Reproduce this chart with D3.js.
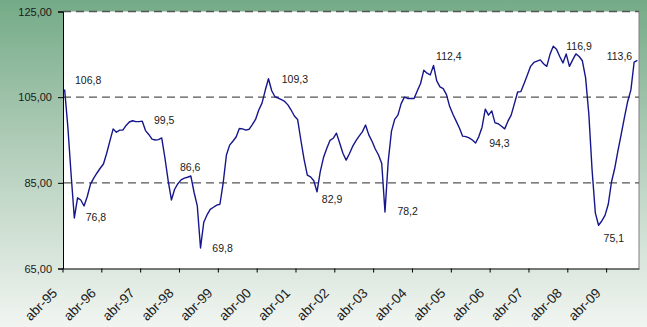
<!DOCTYPE html>
<html>
<head>
<meta charset="utf-8">
<script src="https://cdn.jsdelivr.net/npm/d3@7"></script>
<style>
  html, body { margin: 0; padding: 0; }
  body { width: 647px; height: 327px; overflow: hidden; }
  text { font-family: "Liberation Sans", Arial, sans-serif; fill: #1a1a1a; }
</style>
</head>
<body>
<div id="chart"></div>
<script>
// monthly index, abr-95 .. ene-10
var months = d3.timeMonth.range(new Date(1995, 3, 1), new Date(2010, 1, 1));

var values = [
  106.8, 98.0, 87.0, 76.8, 81.5, 81.0, 79.6, 81.8, 84.7, 86.1,
  87.3, 88.4, 89.4, 91.9, 94.8, 97.6, 96.8, 97.3, 97.3, 98.4,
  99.2, 99.5, 99.3, 99.3, 99.4, 97.2, 96.3, 95.2, 95.0, 95.1,
  95.5, 90.8, 85.5, 81.0, 83.5, 84.8, 85.7, 86.1, 86.3, 86.6,
  82.8, 79.6, 69.8, 75.8, 77.5, 78.8, 79.3, 79.8, 80.0, 85.0,
  91.5, 93.8, 94.7, 95.7, 97.7, 97.6, 97.3, 97.5, 98.6, 99.8,
  102.0, 103.6, 106.6, 109.3, 106.5, 105.1, 104.8, 104.4, 104.0, 103.2,
  102.0, 100.6, 99.8, 95.0, 90.5, 86.8, 86.4, 85.5, 82.9, 87.6,
  90.9, 93.0, 94.9, 95.4, 96.6, 94.3, 91.9, 90.3, 91.8, 93.5,
  94.8, 95.9, 96.9, 98.5, 96.2, 94.7, 92.9, 91.5, 89.5, 78.2,
  90.0, 97.0, 99.8, 100.8, 103.5, 105.0, 104.7, 104.7, 104.7, 106.5,
  108.2, 111.3, 110.6, 110.2, 112.4, 108.8, 107.4, 107.0, 105.6, 102.8,
  101.0, 99.4, 97.8, 95.9, 95.8, 95.5, 95.0, 94.3, 95.8, 98.0,
  102.2, 100.8, 101.8, 99.0, 98.8, 98.2, 97.6, 99.4, 100.8, 103.5,
  106.2, 106.3, 108.2, 110.2, 112.2, 113.1, 113.4, 113.7, 112.8, 112.2,
  115.0, 116.9, 116.2, 114.5, 113.0, 115.1, 112.2, 113.7, 115.1, 114.5,
  113.5, 109.5, 101.0, 88.0, 78.0, 75.1, 76.1, 77.4, 80.0, 85.2,
  88.4, 92.5, 96.3, 100.3, 104.0, 106.7, 113.2, 113.6
];

var tickLabels = ["abr-95","abr-96","abr-97","abr-98","abr-99","abr-00","abr-01",
  "abr-02","abr-03","abr-04","abr-05","abr-06","abr-07","abr-08","abr-09"];
var yTicks = [65, 85, 105, 125];

// annotated points (index into values)
var labelIdx = [0, 21, 3, 39, 42, 63, 78, 99, 114, 127, 151, 177, 165];
// pixel offsets of each annotation from its point
var labelOffsets = [[10.4,-5.4],[21.4,3.3],[11.4,3],[-10.8,-5],[11.8,3.8],[13.3,4],
  [4.8,11.5],[12.4,3.1],[2.6,-5.5],[13.6,4.3],[13,3.8],[-30.7,-0.3],[5,16.5]];

var width = 647, height = 327;
var plot = {left: 63, top: 11.5, right: 639, bottom: 268.5};

var svg = d3.select("#chart").append("svg")
  .attr("width", width).attr("height", height);

var defs = svg.append("defs");
var grad = defs.append("linearGradient").attr("id", "bg")
  .attr("x1", 0).attr("y1", 0).attr("x2", 0).attr("y2", 1);
grad.append("stop").attr("offset", "0%").attr("stop-color", "#74ab87");
grad.append("stop").attr("offset", "45%").attr("stop-color", "#b1cdb9");
grad.append("stop").attr("offset", "100%").attr("stop-color", "#f1f5f1");

svg.append("rect").attr("width", width).attr("height", height).attr("fill", "url(#bg)");

var x = d3.scaleBand().domain(d3.range(months.length)).range([plot.left, plot.right]);
var xc = function(i) { return x(i) + x.bandwidth() / 2; };
var y = d3.scaleLinear().domain([65, 125]).range([plot.bottom, plot.top]);

var fmt2 = function(v) { return d3.format(".2f")(v).replace(".", ","); };
var fmt1 = function(v) { return d3.format(".1f")(v).replace(".", ","); };

// plot area
svg.append("rect")
  .attr("x", plot.left).attr("y", plot.top)
  .attr("width", plot.right - plot.left).attr("height", plot.bottom - plot.top)
  .attr("fill", "#ffffff");

// right border
svg.append("line")
  .attr("x1", plot.right).attr("x2", plot.right)
  .attr("y1", plot.top).attr("y2", plot.bottom)
  .attr("stroke", "#808080").attr("stroke-width", 1);

// dashed gridlines
svg.append("g").selectAll("line")
  .data(yTicks.filter(function(d) { return d > 65; }))
  .enter().append("line")
  .attr("x1", plot.left).attr("x2", plot.right)
  .attr("y1", function(d) { return y(d); }).attr("y2", function(d) { return y(d); })
  .attr("stroke", "#555").attr("stroke-width", 1.3)
  .attr("stroke-dasharray", "8,5");

// y axis
var yAxis = svg.append("g")
  .attr("transform", "translate(" + plot.left + ",0)")
  .call(d3.axisLeft(y).tickValues(yTicks).tickFormat(fmt2).tickSize(5).tickPadding(6));
yAxis.select(".domain").attr("stroke", "#000");
yAxis.selectAll(".tick line").attr("stroke", "#000");
yAxis.selectAll("text").attr("font-size", "11px").attr("fill", "#1a1a1a")
  .attr("font-family", "Liberation Sans, Arial, sans-serif");

// x axis
var tickIdx = tickLabels.map(function(d, i) { return i * 12; });
var xAxis = svg.append("g")
  .attr("transform", "translate(0," + plot.bottom + ")")
  .call(d3.axisBottom(x).tickValues(tickIdx)
    .tickFormat(function(d) { return tickLabels[d / 12]; })
    .tickSize(4).tickSizeOuter(0));
xAxis.select(".domain").attr("stroke", "#000");
xAxis.selectAll(".tick").attr("transform", function(d) { return "translate(" + x(d) + ",0)"; });
xAxis.selectAll(".tick line").attr("stroke", "#000");
xAxis.selectAll("text")
  .attr("font-size", "13.5px").attr("fill", "#1a1a1a")
  .attr("font-family", "Liberation Sans, Arial, sans-serif")
  .attr("text-anchor", "end")
  .attr("dy", null).attr("y", 0)
  .attr("transform", "translate(-5,25.5) rotate(-45)");

// series
var line = d3.line()
  .x(function(d, i) { return xc(i); })
  .y(function(d) { return y(d); });

svg.append("path")
  .datum(values)
  .attr("d", line)
  .attr("fill", "none")
  .attr("stroke", "#16168c")
  .attr("stroke-width", 1.4)
  .attr("stroke-linejoin", "round");

// annotations
svg.append("g").selectAll("text")
  .data(labelIdx)
  .enter().append("text")
  .attr("x", function(d, k) { return xc(d) + labelOffsets[k][0]; })
  .attr("y", function(d, k) { return y(values[d]) + labelOffsets[k][1]; })
  .attr("font-size", "10.5px")
  .text(function(d) { return fmt1(values[d]); });
</script>
</body>
</html>
